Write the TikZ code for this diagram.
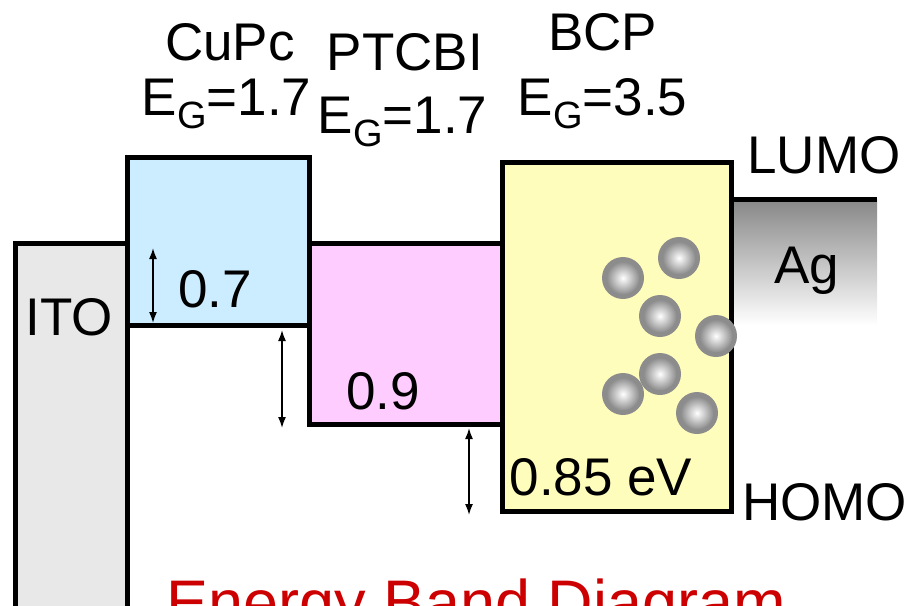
\documentclass[tikz,border=0pt]{standalone}
\usepackage{fontspec}
\setmainfont{Liberation Sans}
\usepackage{tikz}
\usetikzlibrary{arrows.meta, positioning}
\definecolor{itogray}{RGB}{232,232,232}
\definecolor{cupcblue}{RGB}{204,236,255}
\definecolor{ptcbipink}{RGB}{255,204,255}
\definecolor{bcpyellow}{RGB}{255,253,188}
\definecolor{aggray}{RGB}{135,135,135}
\definecolor{ballgray}{RGB}{140,140,140}
\definecolor{titlered}{RGB}{204,0,0}
\newcommand{\egap}[1]{E\raisebox{-0.25em}{\fontsize{38}{40}\selectfont G}=#1}

\begin{document}
\begin{tikzpicture}[x=1pt, y=-1pt,
  band/.style={draw, line width=5pt, line join=miter},
  lbl/.style={anchor=base, font=\fontsize{53}{60}\selectfont, inner sep=0pt},
  dimarrow/.style={{Latex[length=11pt,width=8pt]}-{Latex[length=11pt,width=8pt]}, line width=1.6pt}]
  \useasboundingbox (0,0) rectangle (909,605);
  % Ag contact, under the bands
  \shade[top color=aggray, bottom color=white] (731,199) rectangle (877,325);
  \draw[line width=5pt] (731,199) -- (877,199);
  \node[lbl] (ag) at (806.5,283) {Ag};
  % 1. ITO
  \draw[band, fill=itogray] (15.5,243) rectangle (127.5,650);
  \node[lbl] (ito) at (69.5,335) {ITO};
  % 2. CuPc
  \draw[band, fill=cupcblue] (127.5,157.5) rectangle (309.5,325.5);
  \node[lbl] (cupc) at (230,60) {CuPc};
  \node[lbl] (cupcgap) at (226.5,115) {\egap{1.7}};
  \node[lbl] (cupcoff) at (215,307) {0.7};
  % 3. PTCBI
  \draw[band, fill=ptcbipink] (309.5,243) rectangle (502,424.5);
  \node[lbl] (ptcbi) at (405,70) {PTCBI};
  \node[lbl] (ptcbigap) at (402.5,133) {\egap{1.7}};
  \node[lbl] (ptcbioff) at (383,409) {0.9};
  % 4. BCP
  \draw[band, fill=bcpyellow] (502,162) rectangle (731,511);
  \node[lbl] (bcp) at (602.5,50) {BCP};
  \node[lbl] (bcpgap) at (602.5,115) {\egap{3.5}};
  \node[lbl] (bcpoff) at (601,495) {0.85 eV};
  \node[lbl] (lumo) at (824,173) {LUMO};
  \node[lbl] (homo) at (824.5,520) {HOMO};
  % Ag atoms inside BCP
  \foreach \x/\y in {623/278, 679/258, 660/316, 716/336, 660/374, 623/394, 697/413} {
    \fill[ballgray] (\x,\y) circle (21);
    \shade[inner color=white, outer color=ballgray] (\x,\y) circle (16.5);
  }
  % offsets
  \coordinate (a1t) at (153,248); \coordinate (a1b) at (153,323);
  \coordinate (a2t) at (282,330); \coordinate (a2b) at (282,428);
  \coordinate (a3t) at (469,428); \coordinate (a3b) at (469,515);
  \draw[dimarrow] (a1t) -- (a1b);
  \draw[dimarrow] (a2t) -- (a2b);
  \draw[dimarrow] (a3t) -- (a3b);
  % title, cut by the lower edge
  \node[lbl, font=\fontsize{63}{70}\selectfont, text=titlered] (title) at (476,624) {Energy Band Diagram};
\end{tikzpicture}
\end{document}
